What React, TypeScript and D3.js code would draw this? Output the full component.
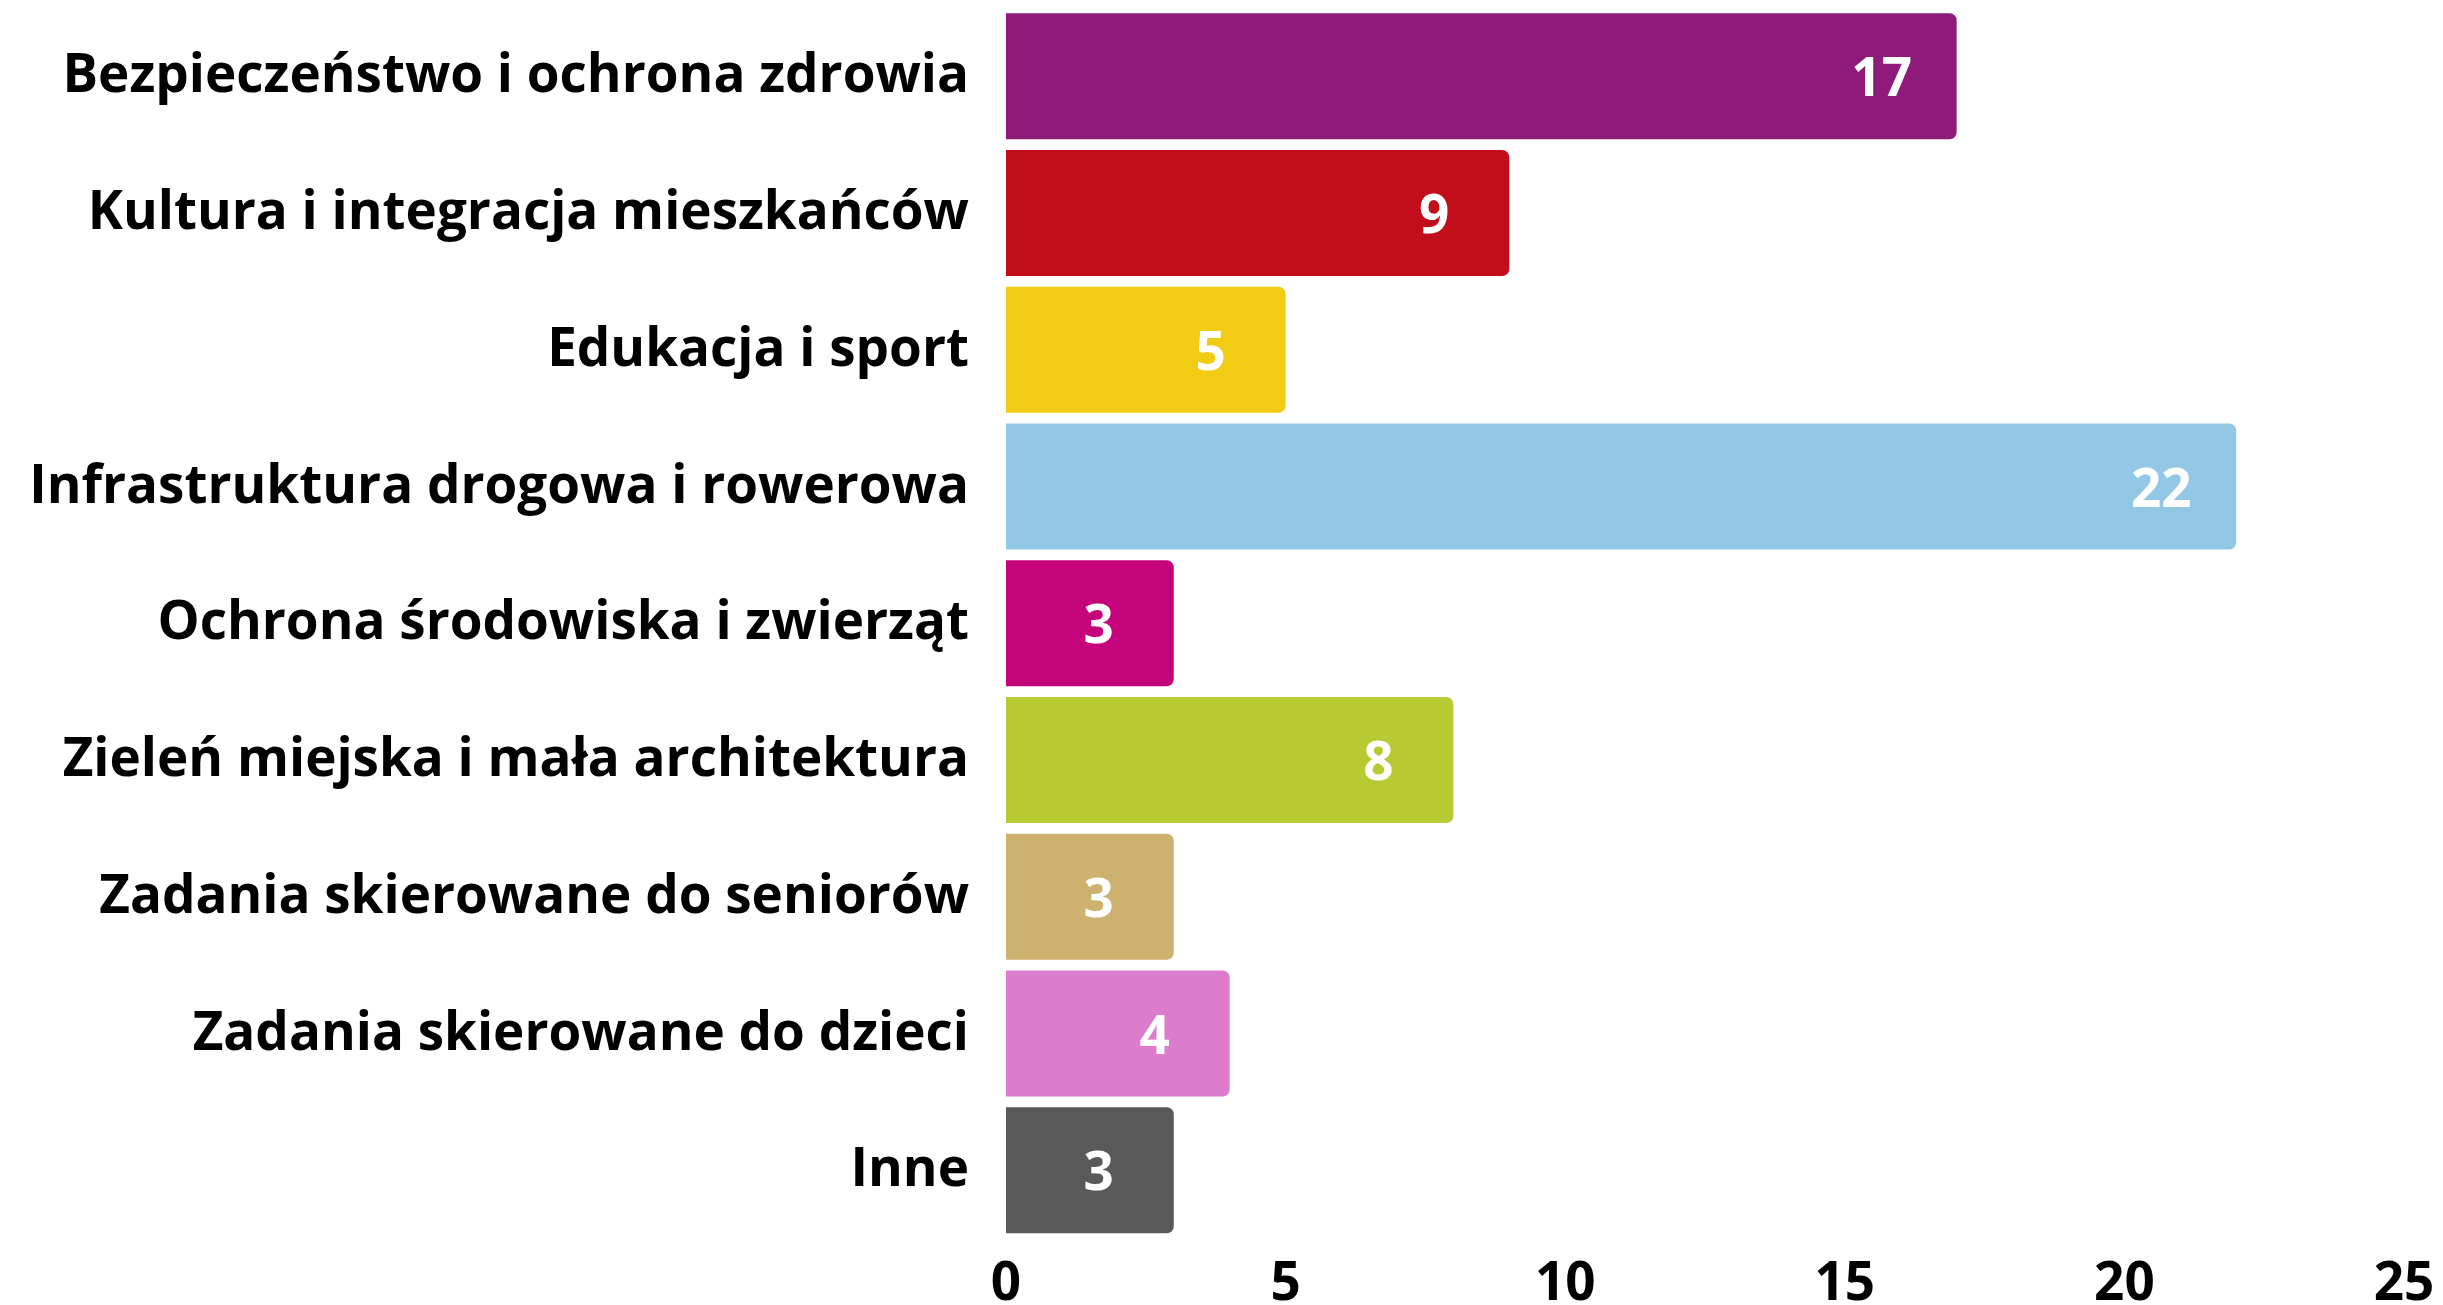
import React from "react";
import * as d3 from "d3";

const categories = [
  "Bezpieczeństwo i ochrona zdrowia",
  "Kultura i integracja mieszkańców",
  "Edukacja i sport",
  "Infrastruktura drogowa i rowerowa",
  "Ochrona środowiska i zwierząt",
  "Zieleń miejska i mała architektura",
  "Zadania skierowane do seniorów",
  "Zadania skierowane do dzieci",
  "Inne",
];
const values = [17, 9, 5, 22, 3, 8, 3, 4, 3];
const colors = [
  "#8E1B7A",
  "#C20E1A",
  "#F2CB14",
  "#92C8E6",
  "#C5037A",
  "#B7CA32",
  "#CDB26F",
  "#DD7CCC",
  "#595959",
];
const xTicks = [0, 5, 10, 15, 20, 25];

const W = 2443;
const H = 1305;
const FONT = "'Open Sans', 'Noto Sans', sans-serif";

function barPath(x0: number, x1: number, y0: number, y1: number, r: number) {
  const rr = Math.min(r, (x1 - x0) / 2, (y1 - y0) / 2);
  const p = d3.path();
  p.moveTo(x0, y0);
  p.lineTo(x1 - rr, y0);
  p.arcTo(x1, y0, x1, y0 + rr, rr);
  p.lineTo(x1, y1 - rr);
  p.arcTo(x1, y1, x1 - rr, y1, rr);
  p.lineTo(x0, y1);
  p.closePath();
  return p.toString();
}

export default function App() {
  const x = d3.scaleLinear().domain([0, 25]).range([1006, 2404]);
  const step = 136.75;
  const gap = 10.75;
  const y = d3
    .scaleBand<string>()
    .domain(categories)
    .range([13.3 - gap / 2, 13.3 - gap / 2 + step * categories.length])
    .paddingInner(gap / step)
    .paddingOuter(gap / step / 2);

  return (
    <svg
      width={W}
      height={H}
      style={{ position: "absolute", left: 0, top: 0, background: "#fff" }}
      fontFamily={FONT}
    >
      {categories.map((c, i) => {
        const y0 = y(c)!;
        const y1 = y0 + y.bandwidth();
        const cy = (y0 + y1) / 2;
        return (
          <g key={c}>
            <path d={barPath(x(0), x(values[i]), y0, y1, 7)} fill={colors[i]} />
            <text
              x={x(values[i]) - 75}
              y={cy + 20}
              textAnchor="middle"
              fontSize={53}
              fontWeight={700}
              fill="#fff"
            >
              {values[i]}
            </text>
            <text
              x={x(0) - 37}
              y={cy + 16}
              textAnchor="end"
              fontSize={53}
              fontWeight={700}
              fill="#000"
            >
              {c}
            </text>
          </g>
        );
      })}
      {xTicks.map((t) => (
        <text
          key={t}
          x={x(t)}
          y={1300}
          textAnchor="middle"
          fontSize={53}
          fontWeight={700}
          fill="#000"
        >
          {t}
        </text>
      ))}
    </svg>
  );
}
